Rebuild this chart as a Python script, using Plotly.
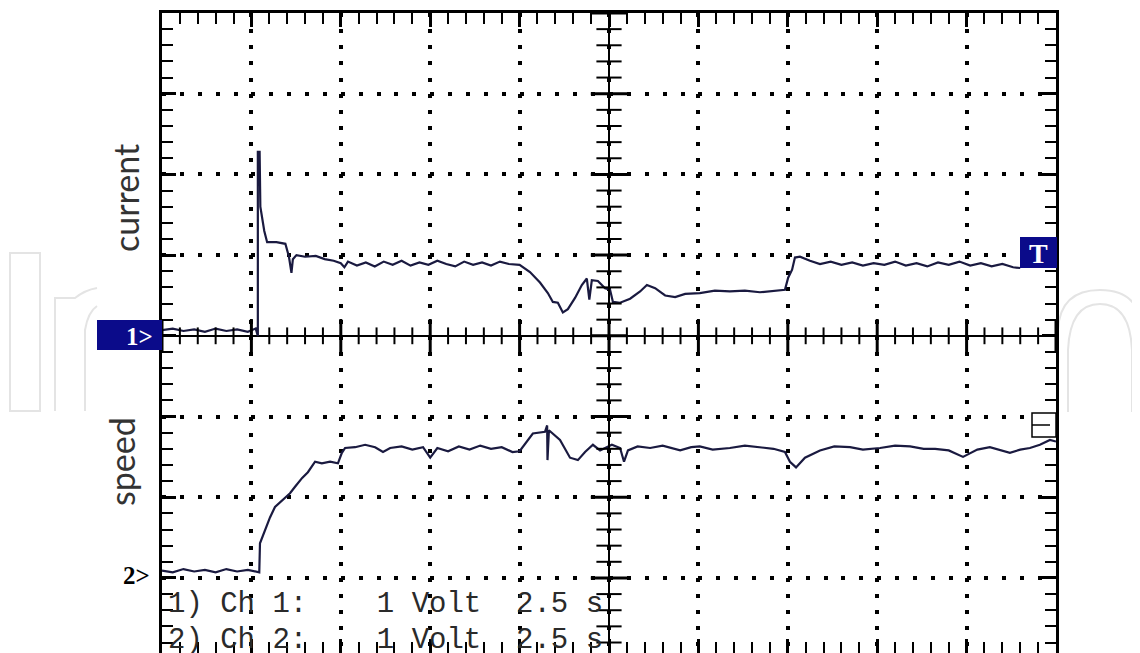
import plotly.graph_objects as go
import numpy as np

# ---------------- data (time in s, 2.5 s/div; volts, 1 V/div) ----------------
current_t = [0.0, 0.3, 0.6, 0.9, 1.2, 1.5, 1.8, 2.1, 2.4, 2.62, 2.68, 2.68, 2.73, 2.75,
             2.86, 2.94, 3.2, 3.45, 3.55, 3.62, 3.66, 3.76, 4.0, 4.3, 4.55, 4.8, 5.0, 5.1,
             5.2, 5.45, 5.7, 5.95, 6.2, 6.45, 6.7, 6.95, 7.2, 7.45, 7.7, 7.95, 8.2, 8.45,
             8.7, 8.95, 9.2, 9.45, 9.7, 10.0, 10.29, 10.57, 10.79, 10.93, 11.07, 11.21,
             11.35, 11.55, 11.74, 11.88, 11.95, 12.02, 12.19, 12.39, 12.53, 12.61, 12.81,
             13.09, 13.37, 13.56, 13.79, 14.07, 14.35, 14.63, 15.04, 15.46, 15.88, 16.30,
             16.72, 17.14, 17.42, 17.51, 17.62, 17.70, 17.84, 18.12, 18.40, 18.7, 19.0,
             19.3, 19.6, 19.9, 20.2, 20.5, 20.8, 21.1, 21.4, 21.7, 22.0, 22.3, 22.6, 22.9,
             23.2, 23.5, 23.8, 24.0]
current_v = [0.07, 0.09, 0.06, 0.08, 0.05, 0.09, 0.06, 0.08, 0.05, 0.09, 0.0, 2.28, 2.28, 1.60,
             1.30, 1.16, 1.16, 1.14, 0.98, 0.78, 0.95, 1.00, 0.98, 0.99, 0.95, 0.93, 0.90, 0.85,
             0.92, 0.87, 0.91, 0.86, 0.92, 0.88, 0.93, 0.87, 0.91, 0.88, 0.93, 0.89, 0.86, 0.92,
             0.88, 0.91, 0.87, 0.92, 0.89, 0.88, 0.79, 0.66, 0.53, 0.42, 0.41, 0.29,
             0.33, 0.47, 0.63, 0.71, 0.45, 0.69, 0.68, 0.59, 0.57, 0.42, 0.41,
             0.46, 0.55, 0.63, 0.59, 0.50, 0.48, 0.52, 0.53, 0.56, 0.55, 0.56,
             0.54, 0.56, 0.57, 0.72, 0.82, 0.97, 0.98, 0.93, 0.89, 0.92, 0.88,
             0.91, 0.87, 0.90, 0.88, 0.92, 0.87, 0.90, 0.86, 0.91, 0.88, 0.92, 0.87, 0.90,
             0.86, 0.89, 0.85, 0.84]

speed_t = [0.0, 0.3, 0.6, 0.9, 1.2, 1.5, 1.8, 2.1, 2.4, 2.72, 2.74, 2.88, 3.02, 3.16, 3.36,
           3.58, 3.72, 3.92, 4.08, 4.28, 4.47, 4.70, 4.92, 5.03, 5.12, 5.40, 5.68, 5.96,
           6.18, 6.38, 6.7, 7.0, 7.3, 7.5, 7.7, 8.0, 8.3, 8.6, 8.9, 9.2, 9.5, 9.8, 10.0,
           10.37, 10.71, 10.77, 10.78, 10.82, 11.13, 11.41, 11.63, 11.83, 12.05, 12.25,
           12.58, 12.81, 12.92, 13.03, 13.3, 13.65, 14.0, 14.49, 14.8, 15.04, 15.4, 15.88,
           16.3, 16.72, 17.1, 17.42, 17.56, 17.73, 17.98, 18.40, 18.8, 19.24, 19.6, 20.08,
           20.5, 20.92, 21.3, 21.62, 22.0, 22.40, 22.8, 23.15, 23.45, 23.71, 24.0, 24.27,
           24.55, 24.83, 25.0]
speed_v = [0.03, 0.01, 0.05, 0.02, 0.04, 0.01, 0.05, 0.02, 0.04, 0.01, 0.37, 0.53, 0.69, 0.82, 0.90,
           0.99, 1.07, 1.18, 1.25, 1.38, 1.36, 1.38, 1.36, 1.49, 1.55, 1.56, 1.59, 1.56,
           1.50, 1.55, 1.57, 1.53, 1.56, 1.43, 1.55, 1.51, 1.57, 1.53, 1.58, 1.54, 1.56, 1.50, 1.51,
           1.73, 1.75, 1.83, 1.40, 1.77, 1.65, 1.43, 1.40, 1.50, 1.59, 1.52,
           1.59, 1.55, 1.38, 1.52, 1.57, 1.55, 1.58, 1.52, 1.56, 1.57, 1.53, 1.55,
           1.58, 1.56, 1.54, 1.50, 1.38, 1.31, 1.43, 1.52, 1.57, 1.56, 1.53, 1.55,
           1.58, 1.57, 1.54, 1.54, 1.52, 1.44, 1.53, 1.56, 1.52, 1.49, 1.53, 1.55,
           1.59, 1.65, 1.63]

CH2_GROUND = -2.94          # screen position (div) of channel 2 ground marker
bottom_lines = ["1) Ch 1:    1 Volt  2.5 s", "2) Ch 2:    1 Volt  2.5 s"]

# ---------------- layout geometry ----------------
# the page body adds an 8 px margin, so the figure is sized to fit the window
BODY = 8
W, H = 1140 - BODY, 653 - BODY
L, R, T, B = 162 - BODY, 84, 13 - BODY, 0
X_RANGE = [0, 25]
Y_RANGE = [-3.93, 4]
TRACE_COLOR = "#1a1a40"
NAVY = "#0b0b8a"

PLOT_W = W - L - R
PLOT_H = H - T - B


def px(xp):   # screenshot pixel -> paper x
    return (xp - BODY - L) / PLOT_W


def py(yp):   # screenshot pixel -> paper y
    return (BODY + T + PLOT_H - yp) / PLOT_H


fig = go.Figure()

fig.add_trace(go.Scatter(x=current_t, y=current_v, mode="lines",
                         line=dict(color=TRACE_COLOR, width=2.2), hoverinfo="skip"))
fig.add_trace(go.Scatter(x=speed_t, y=[v + CH2_GROUND for v in speed_v], mode="lines",
                         line=dict(color=TRACE_COLOR, width=2.2), hoverinfo="skip"))

# center graticule ticks
hx = np.round(np.arange(0, 25.01, 0.5), 2)
major_h = np.isclose(hx / 2.5, np.round(hx / 2.5))
fig.add_trace(go.Scatter(x=hx[~major_h], y=np.zeros((~major_h).sum()), mode="markers",
                         marker=dict(symbol="line-ns", size=12, line=dict(width=2, color="black")),
                         hoverinfo="skip"))
fig.add_trace(go.Scatter(x=hx[major_h], y=np.zeros(major_h.sum()), mode="markers",
                         marker=dict(symbol="line-ns", size=24, line=dict(width=3, color="black")),
                         hoverinfo="skip"))
vy = np.round(np.arange(-3.8, 4.01, 0.2), 2)
major_v = np.isclose(vy, np.round(vy))
fig.add_trace(go.Scatter(x=np.full((~major_v).sum(), 12.5), y=vy[~major_v], mode="markers",
                         marker=dict(symbol="line-ew", size=18, line=dict(width=2, color="black")),
                         hoverinfo="skip"))
fig.add_trace(go.Scatter(x=np.full(major_v.sum(), 12.5), y=vy[major_v], mode="markers",
                         marker=dict(symbol="line-ew", size=26, line=dict(width=3, color="black")),
                         hoverinfo="skip"))

shapes = []
shapes.append(dict(type="line", xref="x", yref="y", x0=12.5, x1=12.5, y0=Y_RANGE[0], y1=Y_RANGE[1],
                   line=dict(color="black", width=2), layer="above"))

# watermark outlines (outside the screen area)
wm = dict(color="#e4e4e4", width=2)
shapes.append(dict(type="rect", xref="paper", yref="paper", x0=px(10), x1=px(40), y0=py(411), y1=py(253),
                   line=wm, layer="below"))
shapes.append(dict(type="path", xref="paper", yref="paper", layer="below", line=wm,
                   path=f"M {px(55)},{py(411)} L {px(55)},{py(298)} L {px(75)},{py(298)} "
                        f"Q {px(85)},{py(290)} {px(97)},{py(288)} "
                        f"M {px(85)},{py(411)} L {px(85)},{py(330)} Q {px(88)},{py(312)} {px(97)},{py(306)}"))
shapes.append(dict(type="path", xref="paper", yref="paper", layer="below", line=wm,
                   path=f"M {px(1058)},{py(330)} Q {px(1060)},{py(290)} {px(1100)},{py(290)} "
                        f"Q {px(1140)},{py(290)} {px(1142)},{py(330)} "
                        f"M {px(1068)},{py(412)} L {px(1068)},{py(350)} Q {px(1070)},{py(304)} {px(1100)},{py(304)} "
                        f"Q {px(1130)},{py(304)} {px(1132)},{py(350)} L {px(1132)},{py(412)}"))

# channel 1 marker box
shapes.append(dict(type="rect", xref="paper", yref="paper", x0=px(97), x1=px(162), y0=py(350), y1=py(320),
                   fillcolor=NAVY, line=dict(width=0), layer="above"))
# trigger box (channel 1)
shapes.append(dict(type="rect", xref="paper", yref="paper", x0=px(1020), x1=px(1057), y0=py(268), y1=py(237),
                   fillcolor=NAVY, line=dict(width=0), layer="above"))
# channel 2 small box marker
shapes.append(dict(type="rect", xref="paper", yref="paper", x0=px(1032), x1=px(1056), y0=py(437), y1=py(413),
                   fillcolor="white", line=dict(width=1.5, color="black"), layer="above"))
shapes.append(dict(type="line", xref="paper", yref="paper", x0=px(1032), x1=px(1050), y0=py(425), y1=py(425),
                   line=dict(width=1.5, color="black"), layer="above"))

ann_common = dict(xref="paper", yref="paper", showarrow=False, xanchor="center", yanchor="middle")
annotations = [
    dict(text="current", x=px(125), y=py(198), textangle=-90,
         font=dict(family="Lato", size=34, color="#333333"), **ann_common),
    dict(text="speed", x=px(121), y=py(462), textangle=-90,
         font=dict(family="Lato", size=34, color="#333333"), **ann_common),
    dict(text="<b>1&gt;</b>", x=px(139), y=py(336),
         font=dict(family="Liberation Serif", size=25, color="white"), **ann_common),
    dict(text="<b>2&gt;</b>", x=px(136), y=py(575),
         font=dict(family="Liberation Serif", size=25, color="black"), **ann_common),
    dict(text="<b>T</b>", x=px(1038), y=py(253),
         font=dict(family="Liberation Serif", size=28, color="white"), **ann_common),
]
for line_text, yp in zip(bottom_lines, [604, 640]):
    annotations.append(dict(text=line_text, x=px(166), y=py(yp), xref="paper", yref="paper",
                            showarrow=False, xanchor="left", yanchor="middle",
                            font=dict(family="Liberation Mono", size=29, color="#2a2a2a")))

axis_common = dict(showline=True, linecolor="black", linewidth=3, mirror="ticks",
                   ticks="inside", tickcolor="black", showticklabels=False,
                   showgrid=True, gridcolor="black", gridwidth=3.5, fixedrange=True)

fig.update_xaxes(range=X_RANGE, tick0=0, dtick=2.5, ticklen=14, tickwidth=3,
                 griddash="4px,12.14px", zeroline=False,
                 minor=dict(dtick=0.5, tick0=0, ticks="inside", ticklen=11, tickwidth=2,
                            tickcolor="black", showgrid=False),
                 **axis_common)
fig.update_yaxes(range=Y_RANGE, tick0=0, dtick=1, ticklen=14, tickwidth=3,
                 griddash="4px,13.88px", zeroline=True, zerolinecolor="black", zerolinewidth=2,
                 minor=dict(dtick=0.2, tick0=0, ticks="inside", ticklen=11, tickwidth=2,
                            tickcolor="black", showgrid=False),
                 **axis_common)

fig.update_layout(width=W, height=H, autosize=False,
                  margin=dict(l=L, r=R, t=T, b=B, pad=0),
                  paper_bgcolor="white", plot_bgcolor="white",
                  showlegend=False, shapes=shapes, annotations=annotations)

fig.write_html("out.html")
